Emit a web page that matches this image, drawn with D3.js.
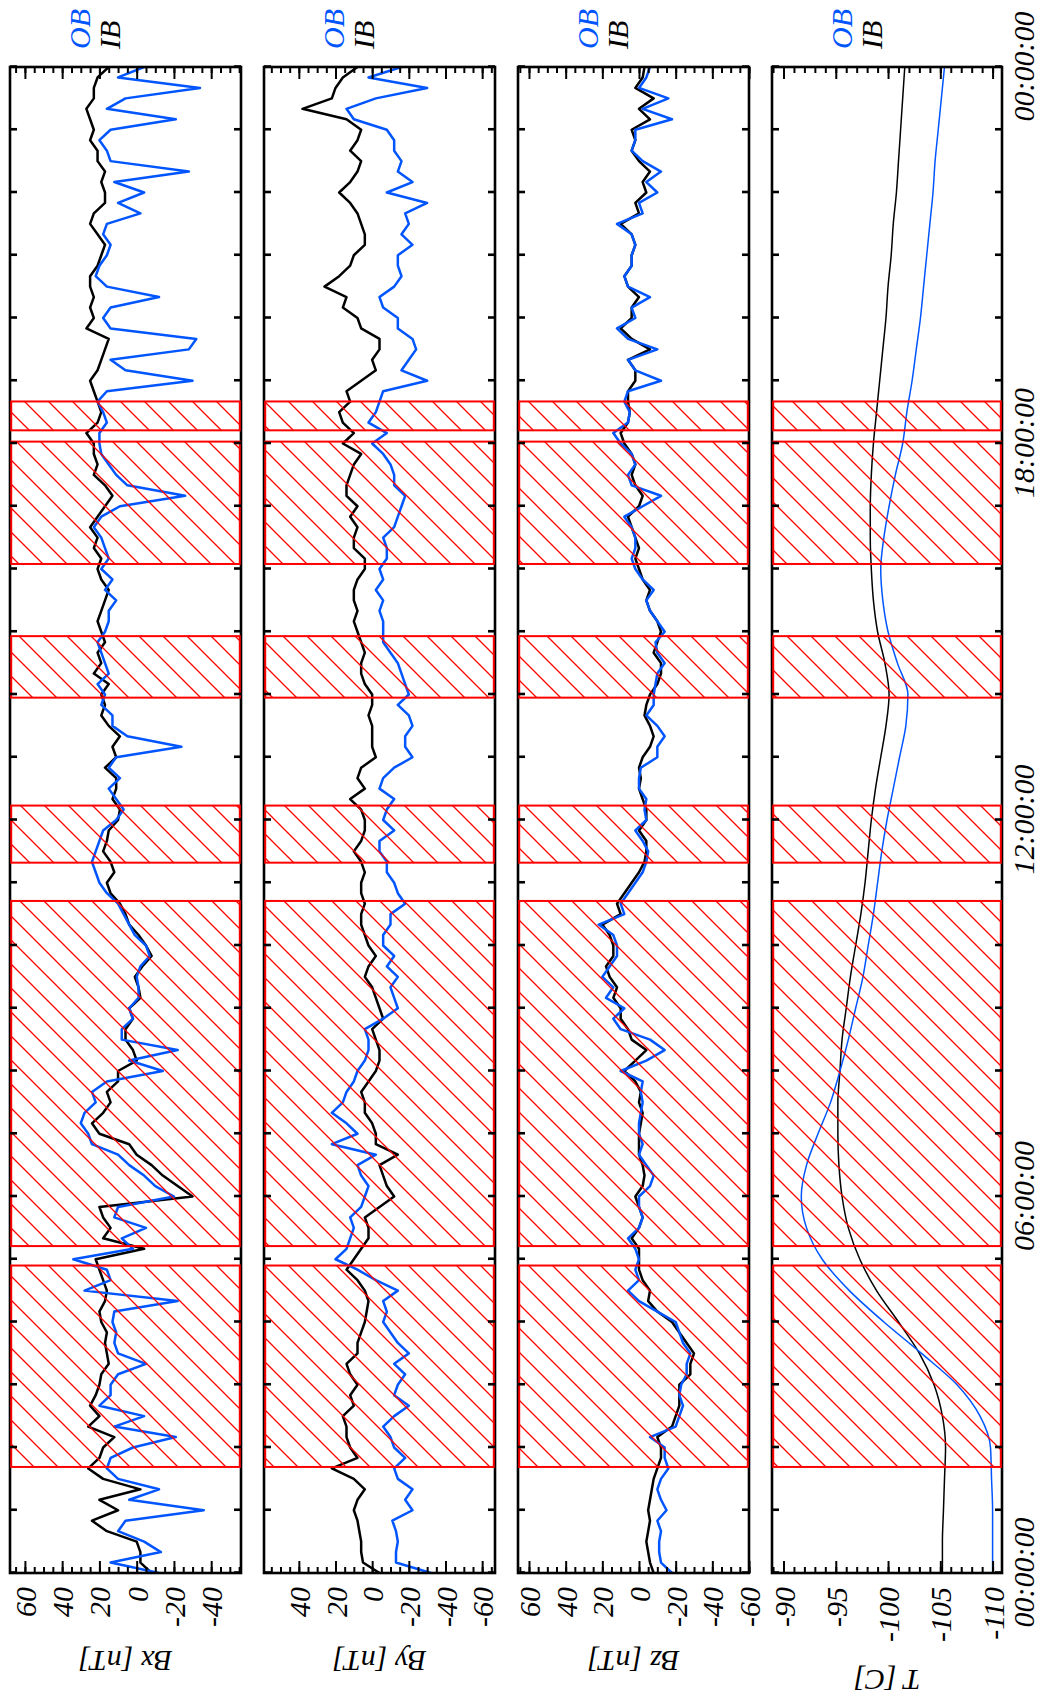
<!DOCTYPE html>
<html><head><meta charset="utf-8">
<script src="https://cdn.jsdelivr.net/npm/d3@7"></script>
<style>html,body{margin:0;padding:0;background:#fff;} svg{display:block;}</style>
</head><body>
<svg id="chart" width="1051" height="1697"></svg>
<script>
// ---------------- DATA ----------------
const sampleMinutesB = 10;   // B-field samples every 10 min, 00:00 .. 24:00
const sampleMinutesT = 30;   // temperature samples every 30 min

const bxIB = [-8,-2,-2,0,16,24,10,20,-2,18,26,20,18,12,26,20,25,22,20,19,15,16,17,16,19,20,17,16,18,20,22,-4,18,14,18,20,
 -30,-22,-14,-8,0,4,20,24,18,14,16,10,10,0,2,6,6,2,4,-2,-1,1,-3,-8,-5,-1,4,6,9,14,16,12,14,18,16,15,
 10,9,13,11,11,17,11,13,9,15,19,17,19,15,23,19,21,17,19,21,19,17,15,19,21,19,23,21,25,21,17,13,17,23,21,23,
 23,27,21,19,21,23,25,21,19,17,15,27,23,25,23,25,25,21,19,17,21,25,23,17,17,19,17,21,21,25,23,25,27,23,23,21,15];
const bxOB = [-12,14,-13,-4,10,6,-36,4,-12,10,16,14,2,-21,12,-4,20,14,14,10,-5,10,12,11,13,12,-22,28,14,16,34,2,8,-5,12,10,
 -20,-10,-4,4,10,24,26,30,28,22,24,16,-14,4,-22,8,8,2,4,-1,-1,0,-2,-7,-5,1,4,7,10,16,20,22,24,22,20,18,
 11,7,11,15,9,15,11,-24,5,13,13,19,17,21,15,17,19,21,17,15,15,11,17,13,19,15,17,19,23,19,9,-26,5,11,15,19,
 20,20,16,18,21,16,-30,6,14,-28,-32,14,18,14,-12,16,22,20,16,14,18,16,-2,10,-4,12,-28,14,16,20,14,-21,16,6,-34,10,-4];

const byIB = [-4,5,6,6,7,8,10,8,4,10,22,8,12,14,14,16,10,12,8,12,14,8,8,6,4,3,2,4,8,14,10,6,2,2,4,-4,
 -12,-8,-6,-4,-14,-2,-2,0,4,4,6,2,-2,-4,-4,-2,0,-6,-4,-2,0,4,2,-2,2,4,6,6,4,6,6,4,6,10,6,4,
 4,6,12,4,8,6,-2,0,0,0,2,0,0,4,6,6,4,6,8,10,8,10,10,8,4,4,10,10,8,12,8,14,14,12,10,6,
 16,10,16,18,12,14,6,-2,0,-4,-4,6,8,16,14,26,18,12,10,4,4,6,8,12,18,12,8,6,12,8,6,14,38,22,20,16,8];
const byOB = [-32,-13,-13,-14,-13,-11,-22,-18,-22,-14,-12,-18,-12,-10,-6,-12,-20,-12,-14,-18,-12,-20,-14,-10,-6,-8,-6,-14,-2,8,20,14,12,10,12,6,
 4,2,6,8,-2,22,8,14,22,16,14,10,8,4,2,2,4,-6,-14,-12,-10,-14,-8,-12,-6,-6,-10,-10,-18,-14,-12,-8,-8,-4,-4,-12,
 -6,-8,-12,-4,-6,-12,-22,-18,-18,-22,-20,-14,-20,-18,-16,-14,-10,-6,-6,-6,-4,-6,-2,-6,-4,-8,-8,-6,-12,-14,-16,-18,-12,-12,-10,-6,
 0,-8,2,-2,-4,-6,-30,-16,-20,-24,-22,-14,-14,-6,-4,-12,-16,-14,-14,-22,-16,-20,-18,-30,-8,-22,-14,-16,-12,-12,-8,10,14,-2,-30,2,-16];

const bzIB = [-8,-6,-5,-4,-5,-6,-5,-6,-7,-8,-10,-12,-12,-10,-18,-20,-22,-22,-22,-28,-28,-30,-26,-22,-18,-10,-5,-6,-2,0,0,0,4,0,-2,0,
 2,-2,-3,-2,0,0,0,-1,-2,0,-1,2,8,2,-4,4,6,10,10,14,12,16,18,14,14,16,20,10,12,8,4,0,-3,-4,-4,0,
 -4,-4,-2,0,-1,0,-2,-6,-8,-6,-3,-4,-6,-10,-12,-12,-8,-10,-12,-10,-6,-4,-6,-2,0,2,0,2,4,6,0,-2,2,4,2,4,
 8,10,6,5,6,6,2,2,6,-6,4,10,4,4,0,6,8,4,4,2,4,10,0,2,-4,-2,-6,0,4,2,4,-6,0,-8,2,-2,-3];
const bzOB = [-18,-12,-11,-11,-12,-10,-15,-12,-10,-12,-16,-14,-14,-6,-20,-22,-24,-22,-23,-26,-26,-28,-24,-22,-20,-10,0,6,0,2,0,2,6,0,-2,0,
 0,-6,-8,-4,0,-2,0,0,-1,-2,-1,-2,10,-4,-14,-6,10,14,8,18,14,20,16,12,12,14,22,8,10,6,2,-2,-4,-5,-2,2,
 -4,-3,-4,0,0,-1,-10,-10,-14,-10,-4,-8,-8,-9,-10,-14,-10,-9,-14,-10,-6,-4,-8,-2,2,4,2,2,4,8,-2,-12,4,6,2,4,
 10,14,6,5,8,6,-12,2,6,-10,6,12,2,4,-6,6,8,4,4,2,4,12,-2,0,-10,-4,-12,-2,4,2,2,-18,-2,-16,0,-4,-6];

const tIB = [-105.2,-105.2,-105.3,-105.4,-105.5,-105.2,-104.4,-103.0,-101.0,-98.9,-97.3,-96.2,-95.6,-95.3,-95.2,-95.2,-95.4,
 -95.6,-96.0,-96.4,-96.9,-97.4,-97.8,-98.1,-98.4,-98.8,-99.3,-99.8,-100.1,-99.7,-99.0,-98.6,-98.4,-98.3,-98.3,-98.4,
 -98.6,-98.9,-99.2,-99.5,-99.8,-100.0,-100.3,-100.5,-100.8,-101.0,-101.2,-101.4,-101.6];
const tOB = [-110.0,-110.0,-110.0,-109.9,-109.8,-108.8,-106.6,-103.2,-99.6,-96.3,-93.7,-92.2,-91.7,-92.2,-93.3,-94.5,-95.4,
 -96.2,-96.9,-97.6,-98.1,-98.6,-99.0,-99.4,-99.9,-100.5,-101.1,-101.7,-101.9,-100.9,-100.0,-99.5,-99.3,-99.6,-100.1,-100.7,
 -101.4,-101.8,-102.3,-102.7,-103.1,-103.4,-103.7,-104.0,-104.3,-104.5,-104.8,-105.1,-105.4];

// hatched intervals [start hour, end hour]
const hatchIntervals = [[1.69,4.90],[5.21,10.71],[11.32,12.23],[13.95,14.93],[16.08,18.03],[18.21,18.67]];

const timeTickLabels = ["00:00:00","06:00:00","12:00:00","18:00:00","00:00:00"];
const bxTicks = [60,40,20,0,-20,-40];
const byTicks = [40,20,0,-20,-40,-60];
const bzTicks = [60,40,20,0,-20,-40,-60];
const tTicks  = [-90,-95,-100,-105,-110];
const panelTitles = ["Bx [nT]","By [nT]","Bz [nT]","T [C]"];
const legendLabels = ["OB","IB"];

// ---------------- DRAW ----------------
const W = 1051, H = 1697;
const FONT = "'Liberation Serif','Times New Roman',serif";
const BLUE = "#0055ff";
const svg = d3.select('#chart');
const defs = svg.append('defs');
const pat = defs.append('pattern').attr('id','hatch').attr('patternUnits','userSpaceOnUse')
  .attr('width',24).attr('height',24);
pat.append('path').attr('d','M0,24 L24,0 M-6,6 L6,-6 M18,30 L30,18')
  .attr('stroke','#ff0000').attr('stroke-width',1.3).attr('fill','none');

// draw in landscape coordinates, then rotate the whole figure 90° counter-clockwise
const root = svg.append('g').attr('transform', `translate(0,${H}) rotate(-90)`);
const x = d3.scaleLinear().domain([0,24]).range([124,1630]);
const tB = d3.range(bxIB.length).map(i => i*sampleMinutesB/60);
const tT = d3.range(tIB.length).map(i => i*sampleMinutesT/60);
const hourTicks = d3.range(0,25);

const panels = [
  {top:10,  bottom:241,  domain:[68,-56],      ticks:bxTicks, minorStep:5, ib:bxIB, ob:bxOB, t:tB, w:2.5, curve:d3.curveLinear},
  {top:264, bottom:495,  domain:[59,-67],      ticks:byTicks, minorStep:5, ib:byIB, ob:byOB, t:tB, w:2.5, curve:d3.curveLinear},
  {top:518, bottom:749,  domain:[66,-60],      ticks:bzTicks, minorStep:5, ib:bzIB, ob:bzOB, t:tB, w:2.5, curve:d3.curveLinear},
  {top:772, bottom:1002, domain:[-88.9,-110.9],ticks:tTicks,  minorStep:1, ib:tIB,  ob:tOB,  t:tT, w:1.5, curve:d3.curveMonotoneX}
];

function styleText(sel, size){
  sel.attr('font-family',FONT).attr('font-style','italic').attr('font-size',size).attr('fill','#000');
}

panels.forEach((p,pi) => {
  const y = d3.scaleLinear().domain(p.domain).range([p.top,p.bottom]);
  const g = root.append('g');
  defs.append('clipPath').attr('id','clip'+pi).append('rect')
    .attr('x',x(0)).attr('y',p.top).attr('width',x(24)-x(0)).attr('height',p.bottom-p.top);

  const line = d3.line().x((d,i)=>x(p.t[i])).y(d=>y(d)).curve(p.curve);
  const lg = g.append('g').attr('clip-path',`url(#clip${pi})`);
  lg.append('path').datum(p.ib).attr('d',line).attr('fill','none').attr('stroke','#000')
    .attr('stroke-width',p.w).attr('stroke-linejoin','round');
  lg.append('path').datum(p.ob).attr('d',line).attr('fill','none').attr('stroke',BLUE)
    .attr('stroke-width',p.w).attr('stroke-linejoin','round');

  // frame
  g.append('rect').attr('x',x(0)).attr('y',p.top).attr('width',x(24)-x(0)).attr('height',p.bottom-p.top)
    .attr('fill','none').attr('stroke','#000').attr('stroke-width',2.6);

  // hatched intervals
  g.selectAll('rect.hb').data(hatchIntervals).join('rect').attr('class','hb')
    .attr('x',d=>x(d[0])).attr('y',p.top+1.2).attr('width',d=>x(d[1])-x(d[0])).attr('height',p.bottom-p.top-2.4)
    .attr('fill','url(#hatch)').attr('stroke','#ff0000').attr('stroke-width',2);

  // value axes (left with labels, right mirrored)
  const [d0,d1] = p.domain;
  const lo = Math.min(d0,d1), hi = Math.max(d0,d1);
  const minors = d3.range(Math.ceil(lo/p.minorStep)*p.minorStep, hi+1e-9, p.minorStep);
  const left = g.append('g').attr('transform',`translate(${x(0)},0)`)
    .call(d3.axisLeft(y).tickValues(p.ticks).tickSize(-12).tickPadding(14).tickFormat(d=>String(d)));
  left.append('g').call(d3.axisLeft(y).tickValues(minors).tickSize(-6).tickFormat(''));
  const right = g.append('g').attr('transform',`translate(${x(24)},0)`)
    .call(d3.axisRight(y).tickValues(p.ticks).tickSize(-12).tickFormat(''));
  right.append('g').call(d3.axisRight(y).tickValues(minors).tickSize(-6).tickFormat(''));
  [left,right].forEach(a=>{
    a.selectAll('.domain').remove();
    a.selectAll('line').attr('stroke','#000').attr('stroke-width',2);
  });
  styleText(left.selectAll('text').attr('dy','0.35em'), 30);

  // time axes
  const bottomAx = g.append('g').attr('transform',`translate(0,${p.bottom})`)
    .call(d3.axisBottom(x).tickValues(hourTicks).tickSize(-7).tickPadding(11)
      .tickFormat(d => (pi===3 && d%6===0) ? timeTickLabels[d/6] : ''));
  const topAx = g.append('g').attr('transform',`translate(0,${p.top})`)
    .call(d3.axisTop(x).tickValues(hourTicks).tickSize(-7).tickFormat(''));
  [bottomAx,topAx].forEach(a=>{
    a.selectAll('.domain').remove();
    a.selectAll('line').attr('stroke','#000').attr('stroke-width',2.6);
  });
  styleText(bottomAx.selectAll('text'), 30);

  // axis title (vertical in landscape)
  const cy = (p.top+p.bottom)/2;
  styleText(g.append('text').attr('transform',`translate(${pi===3?17:36},${cy}) rotate(-90)`)
    .attr('text-anchor','middle').attr('dy','0.35em').text(panelTitles[pi]), 30);

  // legend
  const ob = g.append('text').attr('x',1648).attr('y',p.top+69).attr('dy','0.35em').text(legendLabels[0]);
  styleText(ob, 30); ob.attr('fill',BLUE);
  styleText(g.append('text').attr('x',1648).attr('y',p.top+99).attr('dy','0.35em').text(legendLabels[1]), 30);
});
</script>
</body></html>
